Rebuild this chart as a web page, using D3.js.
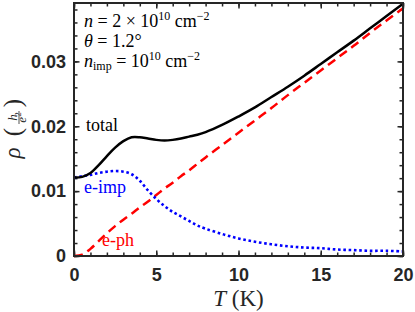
<!DOCTYPE html>
<html>
<head>
<meta charset="utf-8">
<script src="https://cdn.jsdelivr.net/npm/d3@7"></script>
<style>
  body { margin: 0; background: #fff; }
  .tick text { font-family: "Liberation Sans", Arial, sans-serif; font-weight: bold; font-size: 18px; fill: #262626; }
  .serif { font-family: "Liberation Serif", "Times New Roman", serif; }
</style>
</head>
<body>
<div id="chart"></div>
<script>
// temperatures (K)
var temps = [0, 0.5, 1, 1.5, 2, 2.5, 3, 3.5, 4, 4.5, 5, 5.5, 6, 6.5, 7, 7.5, 8,
             9, 10, 11, 12, 13, 14, 15, 16, 17, 18, 19, 20];

// resistivity in units of h/e^2
var totalRho = [0.0121, 0.0122, 0.0128, 0.0140, 0.0154, 0.0167, 0.0177, 0.0183, 0.0183, 0.0181,
                0.0179, 0.0178, 0.0179, 0.0181, 0.0184, 0.0187, 0.0191,
                0.0202, 0.0215, 0.0229, 0.0245, 0.0261, 0.0278, 0.0296, 0.0314, 0.0332, 0.0351, 0.0370, 0.0389];
var impRho = [0.0121, 0.0123, 0.0125, 0.0128, 0.0130, 0.0131, 0.0130, 0.0126, 0.0116, 0.0101,
              0.0088, 0.0077, 0.0068, 0.0061, 0.0054, 0.0047, 0.0042,
              0.0034, 0.0027, 0.0022, 0.0018, 0.0015, 0.0013, 0.0012, 0.0010, 0.0009, 0.0008, 0.0008, 0.0007];
var phRho = [0, 0.0002, 0.0011, 0.0023, 0.0035, 0.0046, 0.0056, 0.0065, 0.0075, 0.0084,
             0.0094, 0.0104, 0.0113, 0.0123, 0.0132, 0.0142, 0.0152,
             0.0171, 0.0190, 0.0209, 0.0228, 0.0248, 0.0267, 0.0286, 0.0305, 0.0324, 0.0344, 0.0363, 0.0382];

var xTicks = [0, 5, 10, 15, 20];
var yTicks = [0, 0.01, 0.02, 0.03];
var xMinor = d3.range(0, 21, 1);
var yMinor = d3.range(0, 0.039, 0.002);

var margin = {top: 3, right: 12, bottom: 56, left: 74};
var width = 415 - margin.left - margin.right;
var height = 312 - margin.top - margin.bottom;

var root = d3.select("#chart")
            .append("svg")
            .attr("width", 415)
            .attr("height", 312);

var svg = root.append("g")
            .attr("transform", "translate(" + margin.left + "," + margin.top + ")");

var x = d3.scaleLinear().domain([0, 20]).range([0, width]);
var y = d3.scaleLinear().domain([0, 0.039]).range([height, 0]);

var fmt = function(d) { return d === 0 ? "0" : d3.format(".2f")(d); };

// minor ticks, all four sides, pointing inward
function minorAxis(axis, g) {
  g.call(axis.tickFormat("").tickSizeOuter(0));
  g.select(".domain").remove();
  g.selectAll("line").attr("stroke", "#262626").attr("stroke-width", 1.5);
}
minorAxis(d3.axisBottom(x).tickValues(xMinor).tickSizeInner(-3.5),
          svg.append("g").attr("transform", "translate(0," + height + ")"));
minorAxis(d3.axisTop(x).tickValues(xMinor).tickSizeInner(-3.5), svg.append("g"));
minorAxis(d3.axisLeft(y).tickValues(yMinor).tickSizeInner(-3.5), svg.append("g"));
minorAxis(d3.axisRight(y).tickValues(yMinor).tickSizeInner(-3.5),
          svg.append("g").attr("transform", "translate(" + width + ",0)"));

// major ticks
var xAxis = svg.append("g")
   .attr("transform", "translate(0," + height + ")")
   .call(d3.axisBottom(x).tickValues(xTicks).tickSizeInner(-5.5).tickSizeOuter(0).tickPadding(17));
var yAxis = svg.append("g")
   .call(d3.axisLeft(y).tickValues(yTicks).tickFormat(fmt).tickSizeInner(-5.5).tickSizeOuter(0).tickPadding(8));
svg.append("g").call(d3.axisTop(x).tickValues(xTicks).tickFormat("").tickSizeInner(-5.5).tickSizeOuter(0));
svg.append("g").attr("transform", "translate(" + width + ",0)")
   .call(d3.axisRight(y).tickValues(yTicks).tickFormat("").tickSizeInner(-5.5).tickSizeOuter(0));
svg.selectAll(".domain").remove();
svg.selectAll(".tick line").attr("stroke", "#262626").attr("stroke-width", 1.5);
xAxis.selectAll("text").attr("dy", "0.45em");

// lines
var line = function(vals) {
  return d3.line()
    .x(function(d, i) { return x(temps[i]); })
    .y(function(d) { return y(d); })
    .curve(d3.curveCatmullRom.alpha(0.5))(vals);
};

svg.append("path").attr("d", line(phRho))
   .attr("fill", "none").attr("stroke", "#ff0000").attr("stroke-width", 2.5)
   .attr("stroke-dasharray", "9,5.5");
svg.append("path").attr("d", line(impRho))
   .attr("fill", "none").attr("stroke", "#0000ff").attr("stroke-width", 2.6)
   .attr("stroke-dasharray", "2.6,2.7");
svg.append("path").attr("d", line(totalRho))
   .attr("fill", "none").attr("stroke", "#000").attr("stroke-width", 2.5);

// frame
svg.append("rect")
   .attr("width", width).attr("height", height)
   .attr("fill", "none").attr("stroke", "#262626").attr("stroke-width", 2);

// curve labels
svg.append("text").attr("class", "serif").attr("x", 12).attr("y", 128)
   .attr("font-size", 18).text("total");
svg.append("text").attr("class", "serif").attr("x", 10).attr("y", 190)
   .attr("font-size", 18).attr("fill", "#0000ff").text("e-imp");
svg.append("text").attr("class", "serif").attr("x", 28).attr("y", 243)
   .attr("font-size", 18).attr("fill", "#ff0000").text("e-ph");

// parameter box
var info = svg.append("g").attr("class", "serif").attr("font-size", 18);
var t1 = info.append("text").attr("x", 10).attr("y", 24);
t1.append("tspan").attr("font-style", "italic").text("n");
t1.append("tspan").text(" = 2 × 10");
t1.append("tspan").attr("font-size", 12).attr("dy", -7).text("10");
t1.append("tspan").attr("dy", 7).text("  cm");
t1.append("tspan").attr("font-size", 12).attr("dy", -7).text("−2");
var t2 = info.append("text").attr("x", 10).attr("y", 44);
t2.append("tspan").attr("font-style", "italic").text("θ");
t2.append("tspan").text(" = 1.2°");
var t3 = info.append("text").attr("x", 10).attr("y", 64);
t3.append("tspan").attr("font-style", "italic").text("n");
t3.append("tspan").attr("font-size", 12).attr("dy", 3).text("imp");
t3.append("tspan").attr("dy", -3).text(" = 10");
t3.append("tspan").attr("font-size", 12).attr("dy", -7).text("10");
t3.append("tspan").attr("dy", 7).text("  cm");
t3.append("tspan").attr("font-size", 12).attr("dy", -7).text("−2");

// x label
var xl = root.append("text").attr("class", "serif").attr("x", margin.left + x(10)).attr("y", 306)
   .attr("text-anchor", "middle").attr("font-size", 23).attr("fill", "#262626");
xl.append("tspan").attr("font-style", "italic").text("T");
xl.append("tspan").text(" (K)");

// y label, rotated
var yl = root.append("g").attr("class", "serif").attr("fill", "#262626")
   .attr("transform", "translate(2,130) rotate(-90)");
yl.append("text").attr("x", -23).attr("y", 18).attr("text-anchor", "middle")
   .attr("font-size", 23).attr("font-style", "italic").text("ρ");
yl.append("text").attr("x", -2).attr("y", 19).attr("text-anchor", "middle")
   .attr("font-size", 25).text("(");
yl.append("text").attr("x", 27).attr("y", 19).attr("text-anchor", "middle")
   .attr("font-size", 25).text(")");
yl.append("text").attr("x", 12.5).attr("y", 15).attr("text-anchor", "middle")
   .attr("font-size", 13).attr("font-style", "italic").text("h");
yl.append("line").attr("x1", 6).attr("x2", 19).attr("y1", 17).attr("y2", 17)
   .attr("stroke", "#262626").attr("stroke-width", 0.8);
var e2 = yl.append("text").attr("x", 12.5).attr("y", 24).attr("text-anchor", "middle")
   .attr("font-size", 13);
e2.append("tspan").attr("font-style", "italic").text("e");
e2.append("tspan").attr("font-size", 9).attr("dy", -5).text("2");
</script>
</body>
</html>
